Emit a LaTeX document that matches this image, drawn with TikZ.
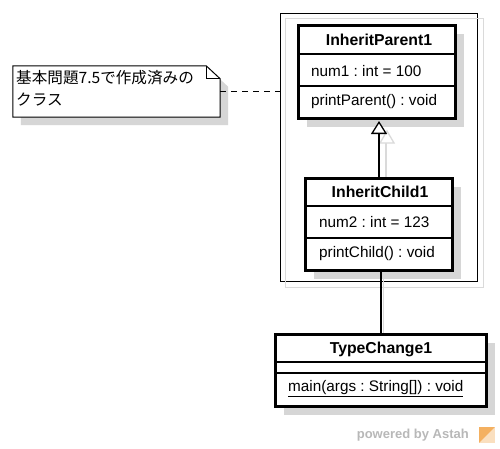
\documentclass[tikz,border=0pt]{standalone}
\usepackage{fontspec}
\setmainfont{Liberation Sans}
\newfontfamily\jpfont{Noto Sans CJK JP}
\usetikzlibrary{arrows.meta,calc,shadows}
\definecolor{shadowgray}{HTML}{D6D6D6}
\definecolor{framegray}{HTML}{DADADA}
\definecolor{wmgray}{HTML}{B8B8B8}
\definecolor{logoorange}{HTML}{F4B060}
\frenchspacing
\tikzset{
  boxshadow/.style={drop shadow={shadow xshift=8pt, shadow yshift=-8pt, fill=shadowgray, opacity=1}},
  classbox/.style={draw=black, line width=3pt, fill=white, inner sep=0pt, boxshadow},
  sepline/.style={line width=1.2pt},
  ctitle/.style={font=\fontsize{15.8}{18}\selectfont\bfseries, inner sep=0pt},
  member/.style={font=\fontsize{15.3}{18}\selectfont, inner sep=0pt, anchor=west},
  conn/.style={line width=1.3pt},
  connshadow/.style={framegray, line width=1.3pt},
  notetext/.style={font=\jpfont\fontsize{15.6}{23}\selectfont, inner sep=0pt, anchor=west},
}
\begin{document}
\begin{tikzpicture}[x=1pt,y=-1pt]
\useasboundingbox[fill=white] (0,0) rectangle (500,448);

% frame
\node[draw=black, line width=0.8pt, minimum width=197, minimum height=268, inner sep=0pt] (frame) at (378.5,147) {};
\draw[framegray, line width=0.8pt] ([shift={(6,6)}]frame.north west) rectangle ([shift={(6,6)}]frame.south east);

% connector shadows
\coordinate (inhs1) at (386,142);
\coordinate (inhs2) at (386,177);
\draw[connshadow] (inhs1) -- (inhs2);
\draw[connshadow, fill=white] (387,131) -- (394,143) -- (380,143) -- cycle;
\coordinate (ass1) at (383.5,272);
\coordinate (ass2) at (383.5,333);
\draw[connshadow] (ass1) -- (ass2);

% InheritParent1
\node[classbox, minimum width=157, minimum height=93] (parent) at (377,72) {};
\draw[sepline] (parent.west |- 0,54) -- (parent.east |- 0,54);
\draw[sepline] (parent.west |- 0,86) -- (parent.east |- 0,86);
\node[ctitle] (parentname) at (379,40) {InheritParent1};
\node[member] (parentattr) at (311,71) {num1 : int = 100};
\node[member] (parentop) at (311,102) {printParent() : void};

% InheritChild1
\node[classbox, minimum width=147, minimum height=92] (child) at (379,224.5) {};
\draw[sepline] (child.west |- 0,206) -- (child.east |- 0,206);
\draw[sepline] (child.west |- 0,238) -- (child.east |- 0,238);
\node[ctitle] (childname) at (380,192) {InheritChild1};
\node[member] (childattr) at (319,222) {num2 : int = 123};
\node[member] (childop) at (319,254) {printChild() : void};

% TypeChange1
\node[classbox, minimum width=211, minimum height=72] (tc) at (381,370.5) {};
\draw[sepline] (tc.west |- 0,362) -- (tc.east |- 0,362);
\draw[sepline] (tc.west |- 0,373) -- (tc.east |- 0,373);
\node[ctitle] (tcname) at (381,349) {TypeChange1};
\node[member] (tcop) at (288,389) {\underline{main(args : String[]) : void}};

% generalization
\draw[conn, -{Triangle[open, fill=white, length=13pt, width=16pt]}, shorten >=1pt] (child.north) -- (child.north |- parent.south);

% association
\draw[conn] (tc.north) -- (tc.north |- child.south);

% note
\node[minimum width=207, minimum height=51, inner sep=0pt] (note) at (116.5,91.5) {};
\path[draw=black, line width=1pt, fill=white, boxshadow]
  (note.south west) -- (note.north west) -- ([xshift=-14pt]note.north east)
  -- ([yshift=-13pt]note.north east) -- (note.south east) -- cycle;
\draw[line width=1pt] ([xshift=-14pt]note.north east) -- ([xshift=-14pt,yshift=-13pt]note.north east) -- ([yshift=-13pt]note.north east);
\node[notetext] (noteline1) at (16,78) {基本問題7.5で作成済みの};
\node[notetext] (noteline2) at (16,100) {クラス};

% note anchor link
\draw[line width=1pt, dash pattern=on 6pt off 5pt] (note.east) -- (frame.west |- note.east);

% watermark
\node[font=\fontsize{13}{15}\selectfont\bfseries, text=wmgray, anchor=east, inner sep=0pt] (wm) at (469,435) {powered by Astah};
\fill[logoorange] (479,427) rectangle (495,443);
\fill[white, opacity=0.6] (479,443) -- (495,427) -- (495,443) -- cycle;
\end{tikzpicture}
\end{document}
